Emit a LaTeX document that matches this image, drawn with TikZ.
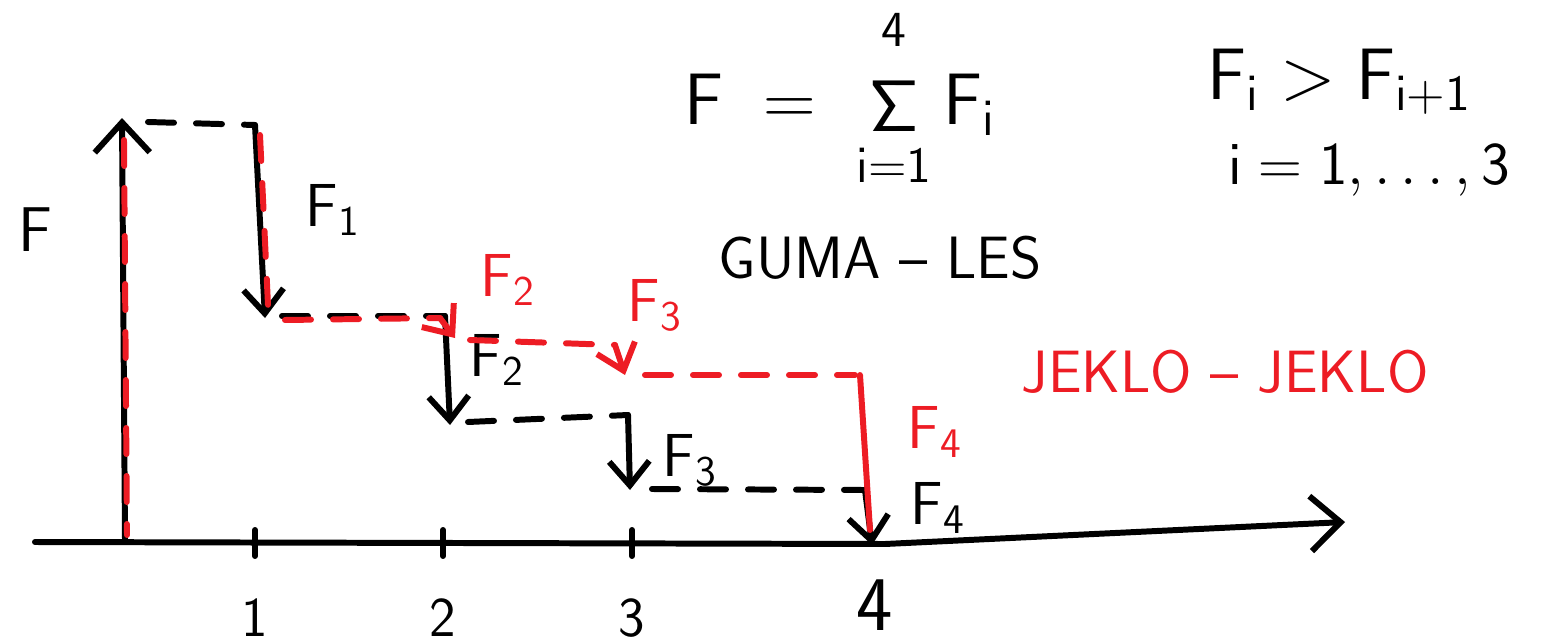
\documentclass[tikz,border=0pt]{standalone}
\usetikzlibrary{arrows.meta}
\definecolor{penred}{RGB}{237,28,36}
\begin{document}
\begin{tikzpicture}[x=0.1mm, y=-0.1mm, font=\sffamily,
  pen/.style={line width=1.7pt, line cap=round, line join=round},
  dashpen/.style={pen, dash pattern=on 2.6mm off 2.2mm},
  redpen/.style={pen, draw=penred},
  reddash/.style={dashpen, draw=penred},
  tip/.style={-{Straight Barb[length=2.4mm, width=4mm]}},
  bigtip/.style={-{Straight Barb[length=3mm, width=5.5mm]}},
  lbl/.style={font=\sffamily\fontsize{18}{20}\selectfont},
  redlbl/.style={lbl, text=penred},
  ticklbl/.style={font=\sffamily\fontsize{16}{18}\selectfont},
  formula/.style={font=\sffamily\fontsize{22}{26}\selectfont}]
  \useasboundingbox (0,0) rectangle (1551,643);

  % --- axes ---
  \coordinate (O) at (125,540);
  \coordinate (ytop) at (122,118);
  \coordinate (xl) at (35,542);
  \coordinate (xm) at (885,544);
  \coordinate (xr) at (1345,522);
  \draw[pen, bigtip] (xl) -- (xm) -- (xr);
  \draw[pen, bigtip] (O) -- (ytop);
  \node[lbl] (ylab) at (35,230) {F};

  % ticks and their numbers
  \foreach \x/\n in {255/1, 443/2, 632/3} {
    \draw[pen] (\x,530) -- (\x,556);
    \node[ticklbl] (t\n) at (\x,618) {\n};
  }
  \node[font=\sffamily\fontsize{22}{24}\selectfont] (t4) at (875,605) {4};

  % --- black steps: forces F1..F4 ---
  \coordinate (A0) at (148,122);
  \coordinate (A1) at (255,125);
  \coordinate (A2) at (265,318);
  \coordinate (B1) at (282,316);
  \coordinate (B2) at (445,316);
  \coordinate (B3) at (450,425);
  \coordinate (C1) at (468,422);
  \coordinate (C2) at (628,415);
  \coordinate (C3) at (630,490);
  \coordinate (D1) at (652,489);
  \coordinate (D2) at (865,490);
  \coordinate (D3) at (872,545);
  \draw[dashpen] (A0) -- (A1);
  \draw[pen, tip] (A1) -- (A2);
  \draw[dashpen] (B1) -- (B2);
  \draw[pen, tip] (B2) -- (B3);
  \draw[dashpen] (C1) -- (C2);
  \draw[pen, tip] (C2) -- (C3);
  \draw[dashpen] (D1) -- (D2);
  \draw[pen, tip] (D2) -- (D3);
  \node[lbl] (f1) at (333,210) {$\mathsf{F_1}$};
  \node[lbl] (f2) at (497,360) {$\mathsf{F_2}$};
  \node[lbl] (f3) at (690,460) {$\mathsf{F_3}$};
  \node[lbl] (f4) at (938,508) {$\mathsf{F_4}$};

  % --- red steps ---
  \coordinate (r0) at (124,140);
  \coordinate (r0b) at (127,535);
  \coordinate (r1) at (260,135);
  \coordinate (r1b) at (268,305);
  \coordinate (r2) at (285,320);
  \coordinate (r2b) at (440,318);
  \coordinate (r2c) at (455,338);
  \coordinate (r3) at (470,340);
  \coordinate (r3b) at (615,345);
  \coordinate (r3c) at (625,375);
  \coordinate (r4) at (645,375);
  \coordinate (r4b) at (855,375);
  \coordinate (r5) at (860,375);
  \coordinate (r5b) at (870,530);
  \draw[reddash] (r0) -- (r0b);
  \draw[reddash] (r1) -- (r1b);
  \draw[reddash] (r2) -- (r2b);
  \draw[redpen, tip] (r2b) -- (r2c);
  \draw[reddash] (r3) -- (r3b);
  \draw[redpen, tip] (r3b) -- (r3c);
  \draw[reddash] (r4) -- (r4b);
  \draw[redpen] (r5) -- (r5b);
  \node[redlbl] (rf2) at (508,280) {$\mathsf{F_2}$};
  \node[redlbl] (rf3) at (655,305) {$\mathsf{F_3}$};
  \node[redlbl] (rf4) at (935,432) {$\mathsf{F_4}$};

  % --- texts ---
  \node[font=\sffamily\fontsize{17}{20}\selectfont] (guma) at (880,258) {GUMA -- LES};
  \node[font=\sffamily\fontsize{17}{20}\selectfont, text=penred] (jeklo) at (1225,372)
    {JEKLO -- JEKLO};
  \node[formula] (sum) at (840,98)
    {$\mathsf{F} \;=\; \mathop{\mathsf{\Sigma}}\limits_{\rule{0pt}{4.5mm}\mathsf{i=1}}^{\mathsf{4}\rule[-3mm]{0pt}{0pt}} \mathsf{F_i}$};
  \node[formula] (order) at (1340,82)
    {$\mathsf{F_i > F_{i+1}}$};
  \node[font=\sffamily\fontsize{18}{22}\selectfont, anchor=east] (range) at (1522,170)
    {$\mathsf{i = 1,\ldots,3}$};
\end{tikzpicture}
\end{document}
